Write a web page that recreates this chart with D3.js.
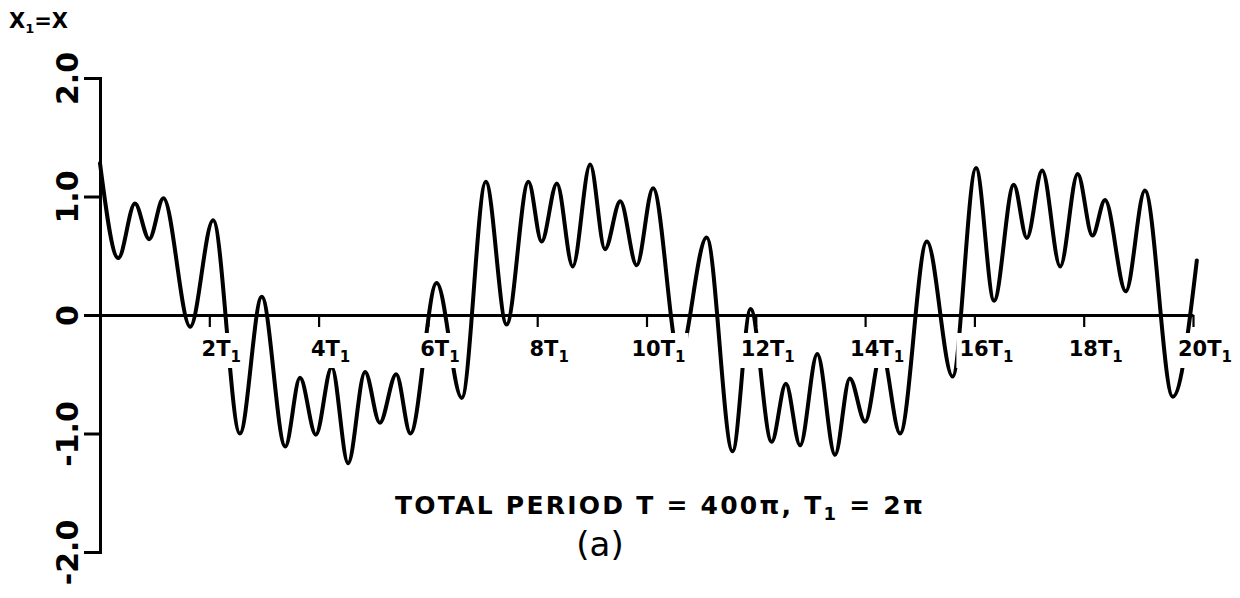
<!DOCTYPE html>
<html>
<head>
<meta charset="utf-8">
<script src="https://cdn.jsdelivr.net/npm/d3@7/dist/d3.min.js"></script>
<style>
  html, body { margin: 0; padding: 0; background: #fff; }
  svg { display: block; }
  text { font-family: "DejaVu Sans", "Liberation Sans", sans-serif; fill: #000; }
</style>
</head>
<body>
<svg id="chart" width="1240" height="598"></svg>
<script>
// Time in units of the fast period T1, and the response x1 = x at each turning point
const timeT1 = [
  0.00, 0.335, 0.64, 0.90, 1.16, 1.65, 2.07, 2.56, 2.96, 3.39,
  3.66, 3.95, 4.24, 4.54, 4.85, 5.12, 5.42, 5.68, 6.16, 6.62,
  7.06, 7.44, 7.84, 8.08, 8.36, 8.65, 8.97, 9.24, 9.52, 9.82,
  10.12, 10.60, 11.10, 11.575, 11.905, 12.29, 12.55, 12.81, 13.125, 13.45,
  13.72, 14.00, 14.30, 14.64, 15.13, 15.60, 16.03, 16.36, 16.72, 16.96,
  17.24, 17.57, 17.89, 18.16, 18.39, 18.77, 19.12, 19.63, 20.07
];
const response = [
  1.28, 0.48, 0.94, 0.64, 0.985, -0.10, 0.80, -1.00, 0.155, -1.11,
  -0.53, -1.01, -0.44, -1.25, -0.48, -0.91, -0.50, -1.00, 0.27, -0.70,
  1.125, -0.08, 1.125, 0.62, 1.11, 0.41, 1.27, 0.555, 0.96, 0.42,
  1.07, -0.35, 0.655, -1.15, 0.05, -1.07, -0.58, -1.10, -0.33, -1.18,
  -0.535, -0.90, -0.30, -1.00, 0.62, -0.52, 1.24, 0.12, 1.10, 0.65,
  1.22, 0.41, 1.19, 0.67, 0.97, 0.20, 1.05, -0.69, 0.46
];

// Axis ticks and their labels
const xTickValues = [2, 4, 6, 8, 10, 12, 14, 16, 18, 20];
const xTickLabels = ["2T", "4T", "6T", "8T", "10T", "12T", "14T", "16T", "18T", "20T"];
const yTickValues = [2, 1, 0, -1, -2];
const yTickLabels = ["2.0", "1.0", "0", "-1.0", "-2.0"];

const svg = d3.select("#chart");

const x = d3.scaleLinear().domain([0, 20]).range([100, 1193]);
const y = d3.scaleLinear().domain([-2, 2]).range([552, 78]);

// Response curve
const points = timeT1.map((t, i) => [t, response[i]]);
const line = d3.line()
  .x(d => x(d[0]))
  .y(d => y(d[1]))
  .curve(d3.curveMonotoneX);

svg.append("path")
  .datum(points)
  .attr("d", line)
  .attr("fill", "none")
  .attr("stroke", "#000")
  .attr("stroke-width", 4)
  .attr("stroke-linejoin", "round")
  .attr("stroke-linecap", "round");

// Tick labels along the time axis, cut out of the curve
const xLabelLayer = svg.append("g");
const xLabels = xLabelLayer.selectAll("g.xlab")
  .data(xTickValues)
  .join("g")
  .attr("class", "xlab");

xLabels.each(function (d, i) {
  const g = d3.select(this);
  const txt = g.append("text")
    .attr("x", x(d) + 12)
    .attr("y", 356)
    .attr("text-anchor", "middle")
    .attr("font-size", 21)
    .attr("font-weight", "bold");
  txt.append("tspan").text(xTickLabels[i]);
  txt.append("tspan").attr("font-size", 15).attr("dy", 6).text("1");
  const bb = txt.node().getBBox();
  g.insert("rect", "text")
    .attr("x", bb.x - 3)
    .attr("y", bb.y - 4)
    .attr("width", bb.width + 6)
    .attr("height", bb.height + 6)
    .attr("fill", "#fff");
});

// Time axis along x1 = 0
const xAxis = d3.axisBottom(x)
  .tickValues(xTickValues)
  .tickSize(12)
  .tickSizeOuter(0)
  .tickFormat("");

const gx = svg.append("g")
  .attr("transform", `translate(0,${y(0)})`)
  .call(xAxis);
gx.select(".domain").attr("stroke-width", 3);
gx.selectAll(".tick line").attr("stroke-width", 2.2);

// Vertical axis with bracket ends
const yAxis = d3.axisLeft(y)
  .tickValues(yTickValues)
  .tickSize(16)
  .tickSizeOuter(16)
  .tickFormat((d, i) => yTickLabels[i]);

const gy = svg.append("g")
  .attr("transform", `translate(${x(0)},0)`)
  .call(yAxis);
gy.select(".domain").attr("stroke-width", 3);
gy.selectAll(".tick line").attr("stroke-width", 3);
gy.selectAll(".tick text")
  .attr("x", null)
  .attr("dy", null)
  .attr("transform", "translate(-22,0) rotate(-90)")
  .attr("text-anchor", "middle")
  .attr("font-size", 30)
  .attr("font-weight", "bold")
  .attr("font-family", "DejaVu Sans, sans-serif")
  .attr("fill", "#000");

// Axis title
const yTitle = svg.append("text")
  .attr("x", 9)
  .attr("y", 28)
  .attr("font-size", 21)
  .attr("font-weight", "bold");
yTitle.append("tspan").text("X");
yTitle.append("tspan").attr("font-size", 13).attr("dy", 5).text("1");
yTitle.append("tspan").attr("dy", -5).text("=X");

// Caption
const caption = svg.append("text")
  .attr("x", 395)
  .attr("y", 514)
  .attr("font-size", 25)
  .attr("font-weight", "bold");
caption.append("tspan").text("TOTAL PERIOD T = 400\u03C0, T");
caption.append("tspan").attr("font-size", 18).attr("dy", 6).text("1");
caption.append("tspan").attr("dy", -6).text(" = 2\u03C0");
const targetWidth = 530;
const natural = caption.node().getBBox().width;
const nChars = "TOTAL PERIOD T = 400\u03C0, T1 = 2\u03C0".length;
caption.attr("letter-spacing", Math.max(0, (targetWidth - natural) / nChars));

svg.append("text")
  .attr("x", 600)
  .attr("y", 556)
  .attr("text-anchor", "middle")
  .attr("font-size", 34)
  .text("(a)");
</script>
</body>
</html>
